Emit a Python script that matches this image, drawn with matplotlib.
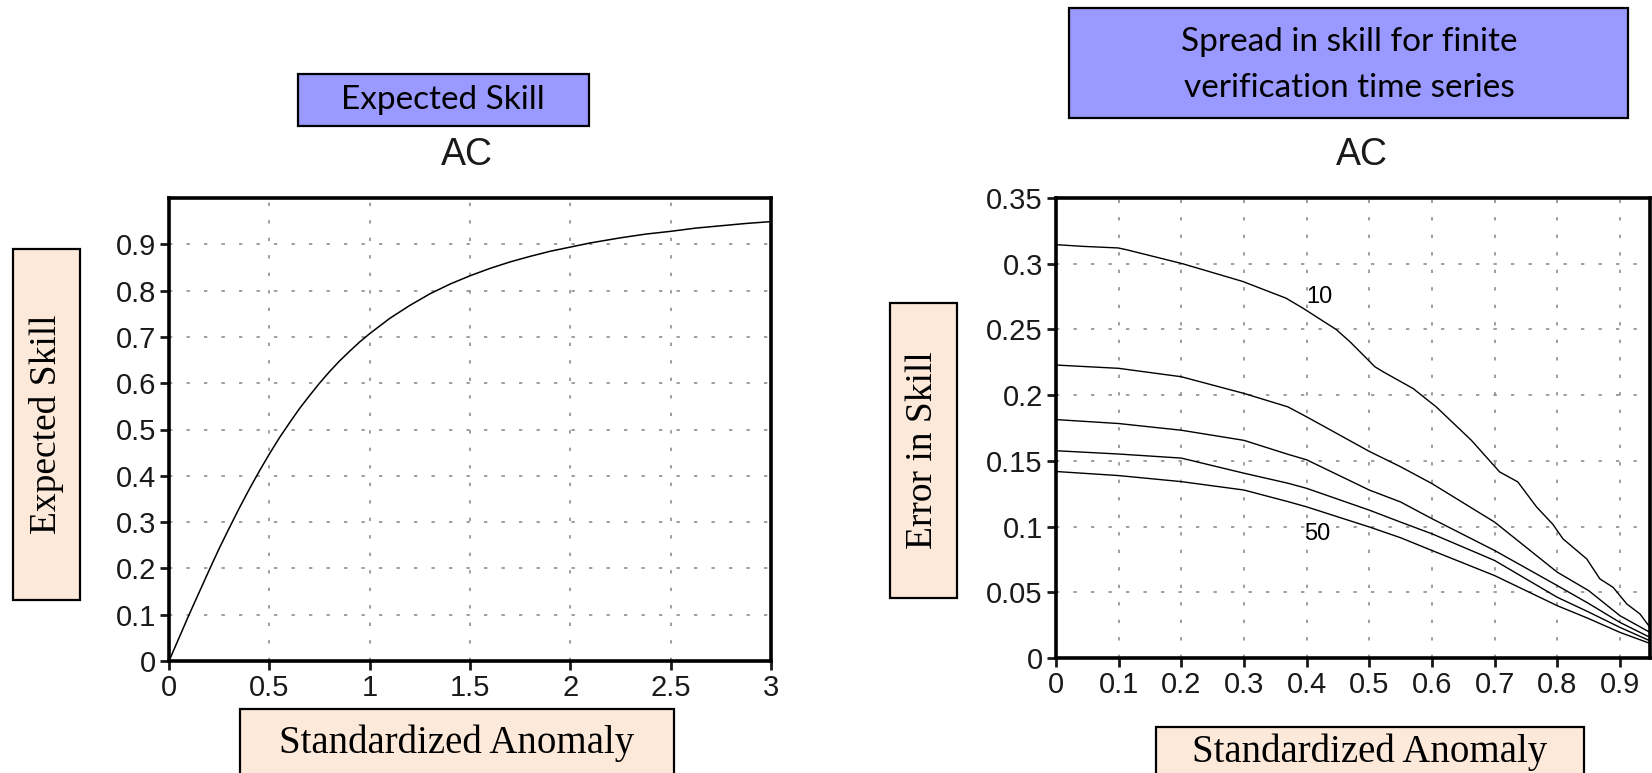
import numpy as np
import matplotlib.pyplot as plt
from matplotlib.patches import Rectangle

# left panel: expected AC skill vs standardized anomaly
anom = [0, 0.05, 0.1, 0.15, 0.2, 0.25, 0.3, 0.35, 0.4, 0.45, 0.5, 0.55, 0.6, 0.65,
        0.7, 0.75, 0.8, 0.85, 0.9, 0.95, 1.0, 1.1, 1.2, 1.3, 1.4, 1.5, 1.6, 1.7,
        1.8, 1.9, 2.0, 2.1, 2.25, 2.375, 2.5, 2.625, 2.75, 2.875, 3.0]
skill = [0, 0.050, 0.100, 0.148, 0.196, 0.243, 0.287, 0.330, 0.371, 0.410, 0.447,
         0.482, 0.514, 0.545, 0.573, 0.600, 0.625, 0.648, 0.669, 0.689, 0.707,
         0.740, 0.768, 0.793, 0.814, 0.832, 0.848, 0.862, 0.874, 0.885, 0.894,
         0.903, 0.914, 0.922, 0.928, 0.935, 0.940, 0.945, 0.949]

# right panel: spread in skill, one curve per verification length
err_10_x = [0, 0.043, 0.099, 0.112, 0.202, 0.298, 0.367, 0.394, 0.447, 0.469,
            0.509, 0.522, 0.570, 0.607, 0.663, 0.708, 0.737, 0.767, 0.793, 0.809,
            0.847, 0.868, 0.889, 0.911, 0.932, 0.948]
err_10 = [0.3145, 0.3132, 0.312, 0.3107, 0.300, 0.2865, 0.2738, 0.2662, 0.25, 0.2407,
          0.2216, 0.2178, 0.205, 0.191, 0.1656, 0.1416, 0.134, 0.1149, 0.1017, 0.0907,
          0.0754, 0.0602, 0.0538, 0.0411, 0.0335, 0.0233]
x_err = [0, 0.1, 0.2, 0.3, 0.37, 0.4, 0.5, 0.55, 0.6, 0.7, 0.8, 0.85, 0.9, 0.948]
err_20 = [0.2229, 0.2204, 0.214, 0.2013, 0.1911, 0.1835, 0.1572, 0.1455, 0.1327,
          0.1034, 0.0653, 0.0513, 0.0322, 0.0195]
err_30 = [0.1814, 0.1784, 0.1733, 0.1656, 0.155, 0.1508, 0.1278, 0.1187, 0.106,
          0.0818, 0.0551, 0.0415, 0.0271, 0.0157]
err_40 = [0.1577, 0.1552, 0.1521, 0.1406, 0.133, 0.1291, 0.1125, 0.1034, 0.0945,
          0.0742, 0.0462, 0.0350, 0.0233, 0.0131]
err_50 = [0.1419, 0.1388, 0.1342, 0.1278, 0.119, 0.115, 0.0997, 0.0915, 0.0818,
          0.0627, 0.0398, 0.0300, 0.0195, 0.0111]

W, H = 1652, 773
fig = plt.figure(figsize=(W / 100, H / 100), dpi=100)

BLUE = '#9999ff'
PEACH = '#fde9d9'
sans = ['Liberation Sans', 'DejaVu Sans']
serif = ['Liberation Serif', 'DejaVu Serif']
box_font = ['Lato', 'DejaVu Sans']


def box(x0, y0, x1, y1, color):
    # pixel coords, origin top-left
    r = Rectangle((x0 / W, 1 - y1 / H), (x1 - x0) / W, (y1 - y0) / H,
                  transform=fig.transFigure, facecolor=color, edgecolor='black',
                  linewidth=1.6, zorder=0)
    fig.add_artist(r)


def label(x, y, s, **kw):
    fig.text(x / W, 1 - y / H, s, ha='center', va='center', **kw)


def style_axes(ax):
    for sp in ax.spines.values():
        sp.set_linewidth(2.6)
    ax.tick_params(direction='out', length=6.5, width=2, labelsize=21, pad=3,
                   top=False, right=False, colors='#1a1a1a')
    for t in ax.get_xticklabels() + ax.get_yticklabels():
        t.set_family(sans)
    ax.grid(True, color='#8c8c8c', linestyle=(0, (2, 8.5)), linewidth=1.2)


# left axes
ax1 = fig.add_axes([169 / W, 1 - 661 / H, 602 / W, 463 / H])
ax1.plot(anom, skill, color='black', linewidth=1.1)
ax1.set_xlim(0, 3)
ax1.set_ylim(0, 1.0)
ax1.set_xticks([0, 0.5, 1, 1.5, 2, 2.5, 3])
ax1.set_xticklabels(['0', '0.5', '1', '1.5', '2', '2.5', '3'])
ax1.set_yticks([0, 0.1, 0.2, 0.3, 0.4, 0.5, 0.6, 0.7, 0.8, 0.9])
ax1.set_yticklabels(['0', '0.1', '0.2', '0.3', '0.4', '0.5', '0.6', '0.7', '0.8', '0.9'])
style_axes(ax1)

# right axes
ax2 = fig.add_axes([1056 / W, 1 - 658 / H, 594 / W, 460 / H])
ax2.plot(err_10_x, err_10, color='black', linewidth=1.0)
for ys in (err_20, err_30, err_40, err_50):
    ax2.plot(x_err, ys, color='black', linewidth=1.0)
ax2.set_xlim(0, 0.948)
ax2.set_ylim(0, 0.35)
ax2.set_xticks([0, 0.1, 0.2, 0.3, 0.4, 0.5, 0.6, 0.7, 0.8, 0.9])
ax2.set_xticklabels(['0', '0.1', '0.2', '0.3', '0.4', '0.5', '0.6', '0.7', '0.8', '0.9'])
ax2.set_yticks([0, 0.05, 0.1, 0.15, 0.2, 0.25, 0.3, 0.35])
ax2.set_yticklabels(['0', '0.05', '0.1', '0.15', '0.2', '0.25', '0.3', '0.35'])
style_axes(ax2)
ax2.text(0.42, 0.275, '10', ha='center', va='center', fontsize=17, family=sans)
ax2.text(0.417, 0.0946, '50', ha='center', va='center', fontsize=17, family=sans)

# titles
label(467, 155, 'AC', fontsize=27, family=sans, color='#1a1a1a')
label(1362, 155, 'AC', fontsize=27, family=sans, color='#1a1a1a')

# blue header boxes
box(298, 74, 589, 126, BLUE)
label(443, 100, 'Expected Skill', fontsize=24, family=box_font)
box(1069, 8, 1628, 118, BLUE)
label(1349, 42, 'Spread in skill for finite', fontsize=24, family=box_font)
label(1349, 88, 'verification time series', fontsize=24, family=box_font)

# peach axis label boxes
box(13, 249, 80, 600, PEACH)
label(47, 424, 'Expected Skill', fontsize=27, family=serif, rotation=90)
box(240, 709, 674, 776, PEACH)
label(457, 743, 'Standardized Anomaly', fontsize=28, family=serif)
box(890, 303, 957, 598, PEACH)
label(923, 450, 'Error in Skill', fontsize=27, family=serif, rotation=90)
box(1156, 727, 1584, 776, PEACH)
label(1370, 752, 'Standardized Anomaly', fontsize=28, family=serif)

fig.savefig('out.png', dpi=100)
